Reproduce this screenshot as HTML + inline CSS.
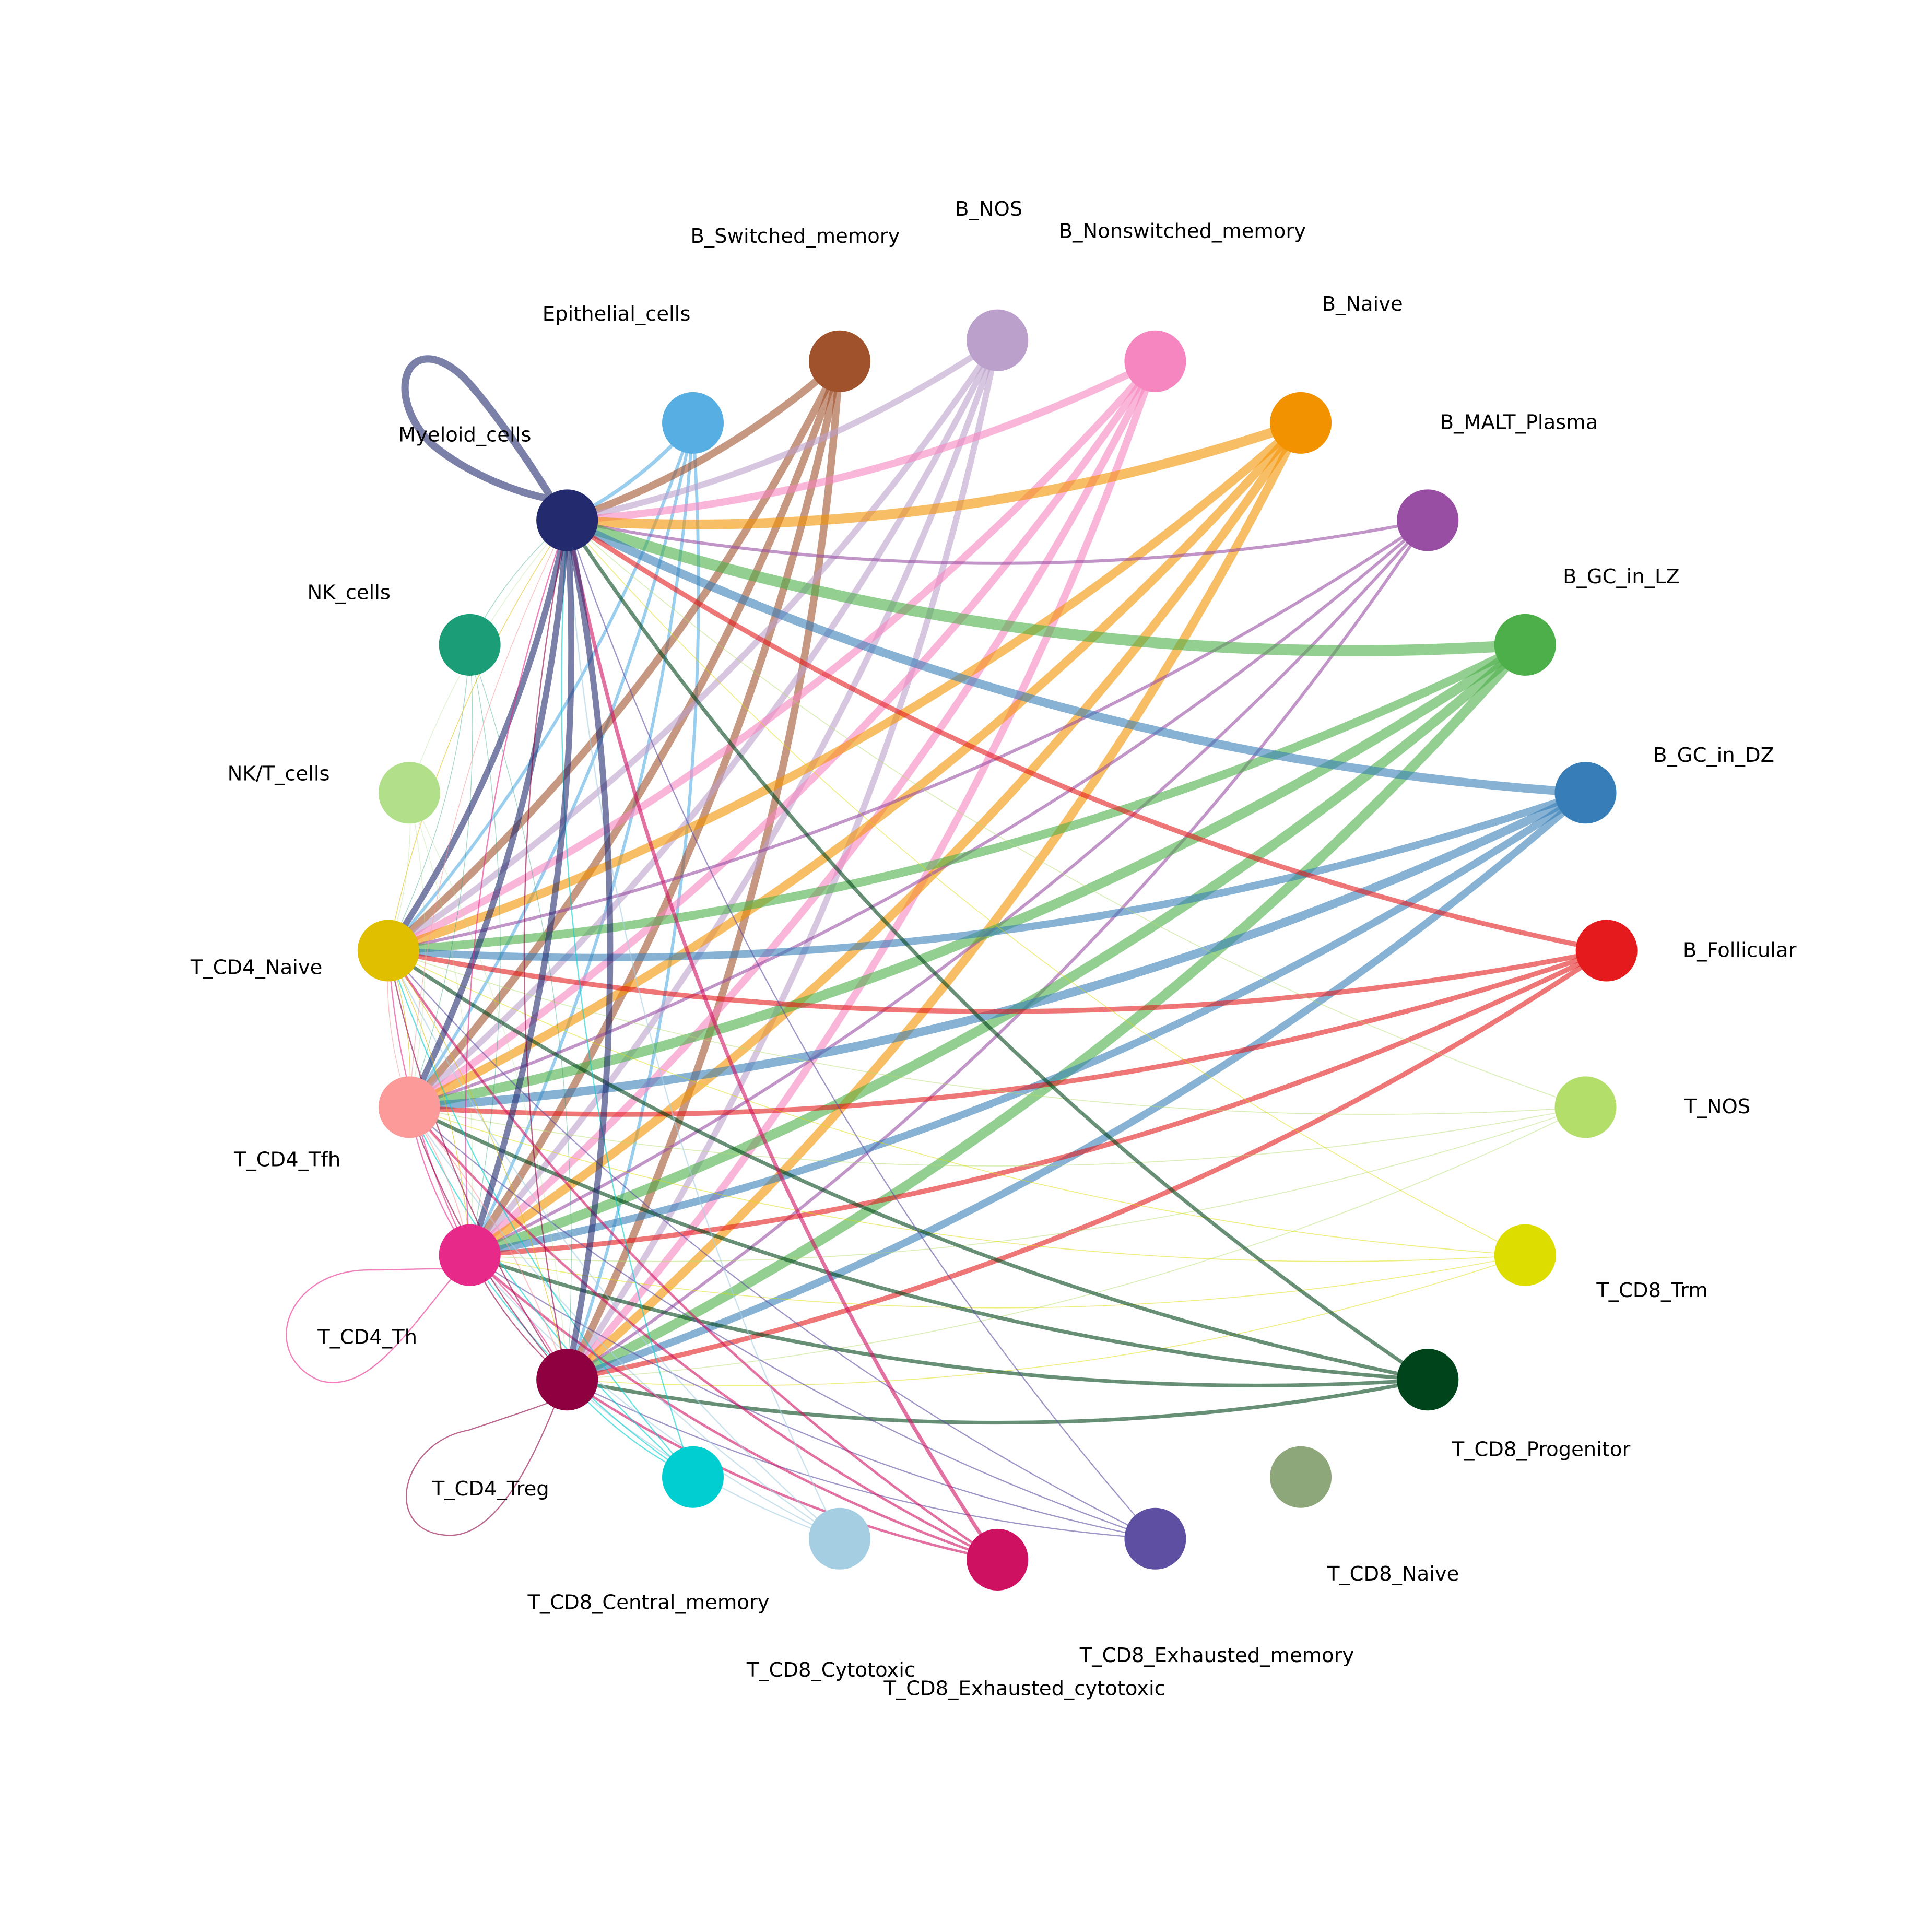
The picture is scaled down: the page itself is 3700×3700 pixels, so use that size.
<!DOCTYPE html>
<html><head><meta charset="utf-8"><style>
html,body{margin:0;padding:0;background:#fff}
svg{display:block}
text{font-family:"DejaVu Sans","Liberation Sans",sans-serif;font-size:16.3px;fill:#000}
</style></head><body>
<svg id="s" width="3700" height="3700" viewBox="0 0 1567 1567" xmlns="http://www.w3.org/2000/svg">
<g id="edges" fill="none" stroke-linecap="butt"></g>
<g id="nodes"></g>
<g id="labels">
<text x="377" y="358" text-anchor="middle">Myeloid_cells</text>
<text x="500" y="260" text-anchor="middle">Epithelial_cells</text>
<text x="645" y="197" text-anchor="middle">B_Switched_memory</text>
<text x="802" y="175" text-anchor="middle">B_NOS</text>
<text x="959" y="193" text-anchor="middle">B_Nonswitched_memory</text>
<text x="1105" y="252" text-anchor="middle">B_Naive</text>
<text x="1232" y="348" text-anchor="middle">B_MALT_Plasma</text>
<text x="1315" y="473" text-anchor="middle">B_GC_in_LZ</text>
<text x="1390" y="618" text-anchor="middle">B_GC_in_DZ</text>
<text x="1411" y="776" text-anchor="middle">B_Follicular</text>
<text x="1393" y="903" text-anchor="middle">T_NOS</text>
<text x="1340" y="1052" text-anchor="middle">T_CD8_Trm</text>
<text x="1250" y="1181" text-anchor="middle">T_CD8_Progenitor</text>
<text x="1130" y="1282" text-anchor="middle">T_CD8_Naive</text>
<text x="987" y="1348" text-anchor="middle">T_CD8_Exhausted_memory</text>
<text x="831" y="1375" text-anchor="middle">T_CD8_Exhausted_cytotoxic</text>
<text x="674" y="1360" text-anchor="middle">T_CD8_Cytotoxic</text>
<text x="526" y="1305" text-anchor="middle">T_CD8_Central_memory</text>
<text x="398" y="1213" text-anchor="middle">T_CD4_Treg</text>
<text x="298" y="1090" text-anchor="middle">T_CD4_Th</text>
<text x="233" y="946" text-anchor="middle">T_CD4_Tfh</text>
<text x="208" y="790" text-anchor="middle">T_CD4_Naive</text>
<text x="226" y="633" text-anchor="middle">NK/T_cells</text>
<text x="283" y="486" text-anchor="middle">NK_cells</text>
</g>
</svg>
<script>
var N={
My:[460,422,'#232B6E'],Ep:[562,343,'#56AEE2'],BS:[681,293,'#A0522D'],BN:[809,276,'#BCA0CC'],
BNs:[937,293,'#F686C0'],BNa:[1055,343,'#F39200'],BM:[1158,422,'#984EA3'],LZ:[1237,523,'#4DAF4A'],
DZ:[1286,643,'#377EB8'],BF:[1303,771,'#E41A1C'],TN:[1286,898,'#B3DE69'],Trm:[1237,1018,'#DDDD00'],
Pr:[1158,1119,'#00441B'],C8N:[1055,1198,'#8DA77A'],EM:[937,1248,'#5E4FA2'],EC:[809,1265,'#CE1161'],
Cy:[681,1248,'#A6CEE3'],CM:[562,1198,'#00CED1'],Tr:[460,1119,'#8E0040'],Th:[381,1018,'#E7298A'],
Tf:[332,898,'#FB9A99'],Na:[315,771,'#E0BE00'],NKT:[332,643,'#B2DF8A'],NK:[381,523,'#1B9E77']};
var E=document.getElementById('edges'),ns='http://www.w3.org/2000/svg';
function ed(a,b,w,op){var A=N[a],B=N[b];var dx=B[0]-A[0],dy=B[1]-A[1],r=0.1;
var cx=(A[0]+B[0])/2+r*dy,cy=(A[1]+B[1])/2-r*dx;
var p=document.createElementNS(ns,'path');p.setAttribute('d','M'+A[0]+','+A[1]+' Q'+cx+','+cy+' '+B[0]+','+B[1]);
p.setAttribute('stroke',A[2]);p.setAttribute('stroke-width',w);p.setAttribute('stroke-opacity',op||0.6);E.appendChild(p);}
var T=['My','Na','Tf','Th','Tr'];
var S={Ep:[3,2.5,2.5,2.5,2.5],BS:[6,6,6,6,6],BN:[5,5,5,5,5],BNs:[6,6,6,6,6],BNa:[8,7,7,7,7],BM:[2.5,2.5,2.5,2.5,2.5],
LZ:[9,7,8,8,8],DZ:[7,6,7,6,6],BF:[4,4,4,4,4],TN:[0.7,0.7,0.7,0.7,0.7],Trm:[0.7,0.7,0.7,0.7,0.7],Pr:[3,3,3,3,3],
EM:[1,1,1,1,1],EC:[3,2,2,2,2],Cy:[1,1,1,1,1],CM:[1,1,1,1,1],NK:[0.6,0.6,0.6,0.6,0.6],NKT:[0.6,0.6,0.6,0.6,0.6],
My:[0,5,5,5,5],Na:[0.6,0,0.6,0.6,0.6],Tf:[0.6,0.6,0,0.8,0.8],Th:[1,1,1,0,1],Tr:[1,1,1,1,0]};
var op={TN:0.5,Trm:0.5,NK:0.4,NKT:0.4,Pr:0.6};
for(var k in S){for(var i=0;i<5;i++){if(S[k][i]>0&&k!==T[i])ed(k,T[i],S[k][i],op[k]||0.6);}}
function loop(d,c,w){var p=document.createElementNS(ns,'path');p.setAttribute('d',d);p.setAttribute('stroke',c);p.setAttribute('stroke-width',w);p.setAttribute('stroke-opacity',0.6);E.appendChild(p);}
loop('M448,405 C420,360 390,320 375,305 C330,265 310,320 350,360 C380,385 420,400 448,405','#232B6E',6);
loop('M372,1030 C330,1080 300,1130 260,1120 C210,1100 230,1030 300,1030 C330,1030 355,1028 372,1030','#E7298A',1);
loop('M452,1135 C430,1190 400,1250 360,1245 C310,1240 325,1170 380,1160 C410,1150 440,1140 452,1135','#8E0040',1);
var G=document.getElementById('nodes');
for(var k in N){var c=document.createElementNS(ns,'circle');c.setAttribute('cx',N[k][0]);c.setAttribute('cy',N[k][1]);c.setAttribute('r',25);c.setAttribute('fill',N[k][2]);G.appendChild(c);}
</script>
</body></html>
